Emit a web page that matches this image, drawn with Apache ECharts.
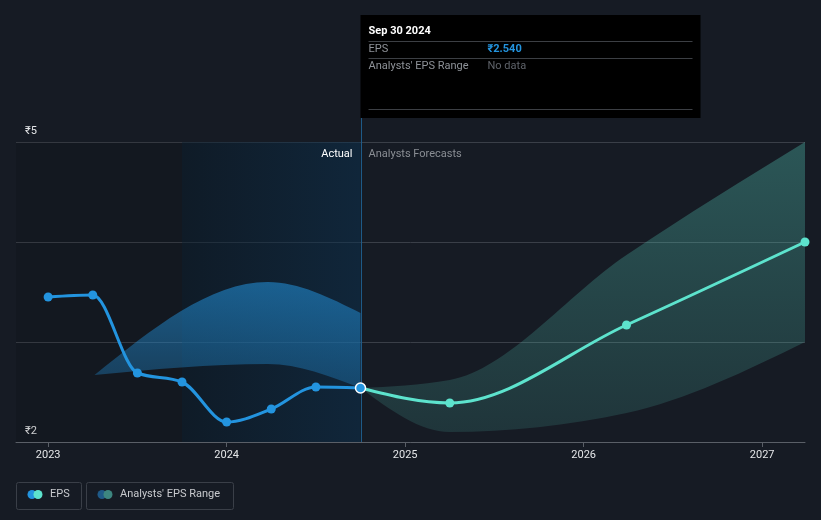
<!DOCTYPE html>
<html>
<head>
<meta charset="utf-8">
<script src="https://cdn.jsdelivr.net/npm/echarts@6/dist/echarts.min.js"></script>
<style>
  html, body { margin: 0; background: #161b24; }
  #main { width: 821px; height: 520px; }
</style>
</head>
<body>
<div id="main"></div>
<script>
// dates are decimal years (2024.75 = Sep 30 2024)
const epsDates = [2023.0, 2023.25, 2023.5, 2023.75, 2024.0, 2024.25, 2024.5, 2024.75];
const epsValues = [3.45, 3.47, 2.69, 2.60, 2.20, 2.33, 2.55, 2.54];
const forecastDates = [2024.75, 2025.25, 2026.24, 2027.24];
const forecastValues = [2.54, 2.39, 3.17, 4.00];
const pastRangeDates = [2023.26, 2024.23, 2024.75];
const pastRangeLow = [2.67, 2.78, 2.54];
const pastRangeHigh = [2.67, 3.60, 3.29];
const futureRangeDates = [2024.75, 2025.25, 2026.24, 2027.24];
const futureRangeLow = [2.54, 2.10, 2.29, 3.00];
const futureRangeHigh = [2.54, 2.62, 3.87, 5.00];
const yearTicks = [2023, 2024, 2025, 2026, 2027];
const lastActualDate = 2024.75;
const shadeStart = 2023.75;
const tooltipTitle = 'Sep 30 2024';
const tooltipEps = '₹2.540';

const FONT = 'Roboto, "Noto Sans", sans-serif';
const BLUE = '#2394df';
const MINT = '#5de3cd';

const pairs = (xs, ys) => xs.map((x, i) => [x, ys[i]]);

// monotone-x cubic segments (same idea as d3.curveMonotoneX), in pixel space
function monoSegments(pts) {
  const n = pts.length;
  if (n < 2) return [];
  const sign = v => (v < 0 ? -1 : 1);
  const sl = [];
  for (let i = 0; i < n - 1; i++) {
    const h = pts[i + 1][0] - pts[i][0];
    sl.push(h ? (pts[i + 1][1] - pts[i][1]) / h : 0);
  }
  const t = new Array(n);
  for (let i = 1; i < n - 1; i++) {
    const h0 = pts[i][0] - pts[i - 1][0], h1 = pts[i + 1][0] - pts[i][0];
    const s0 = sl[i - 1], s1 = sl[i];
    const p = (s0 * h1 + s1 * h0) / (h0 + h1);
    t[i] = (sign(s0) + sign(s1)) * Math.min(Math.abs(s0), Math.abs(s1), 0.5 * Math.abs(p)) || 0;
  }
  if (n === 2) { t[0] = sl[0]; t[1] = sl[0]; }
  else {
    t[0] = (3 * sl[0] - t[1]) / 2;
    t[n - 1] = (3 * sl[n - 2] - t[n - 2]) / 2;
  }
  const segs = [];
  for (let i = 0; i < n - 1; i++) {
    const [x0, y0] = pts[i], [x1, y1] = pts[i + 1];
    const dx = (x1 - x0) / 3;
    segs.push([[x0, y0], [x0 + dx, y0 + dx * t[i]], [x1 - dx, y1 - dx * t[i + 1]], [x1, y1]]);
  }
  return segs;
}
const f = v => v.toFixed(2);
function linePath(pts) {
  const segs = monoSegments(pts);
  let d = 'M' + f(pts[0][0]) + ' ' + f(pts[0][1]);
  segs.forEach(s => { d += 'C' + [s[1], s[2], s[3]].map(p => f(p[0]) + ' ' + f(p[1])).join(' '); });
  return d;
}
function bandPath(upper, lower) {
  let d = linePath(upper);
  const segs = monoSegments(lower).reverse();
  const last = lower[lower.length - 1];
  d += 'L' + f(last[0]) + ' ' + f(last[1]);
  segs.forEach(s => { d += 'C' + [s[2], s[1], s[0]].map(p => f(p[0]) + ' ' + f(p[1])).join(' '); });
  return d + 'Z';
}

function lineSeries(name, xs, ys, color) {
  return {
    name, type: 'custom', silent: true, z: 4,
    data: pairs(xs, ys),
    renderItem(params, api) {
      if (params.dataIndex !== 0) return;
      const pts = xs.map((x, i) => api.coord([x, ys[i]]));
      return { type: 'path', shape: { pathData: linePath(pts) },
        style: { fill: null, stroke: color, lineWidth: 3, lineJoin: 'round', lineCap: 'round' } };
    }
  };
}
function bandSeries(name, xs, lo, hi, fill) {
  return {
    name, type: 'custom', silent: true, z: 2,
    data: xs.map((x, i) => [x, lo[i], hi[i]]),
    renderItem(params, api) {
      if (params.dataIndex !== 0) return;
      const up = xs.map((x, i) => api.coord([x, hi[i]]));
      const dn = xs.map((x, i) => api.coord([x, lo[i]]));
      return { type: 'path', shape: { pathData: bandPath(up, dn) }, style: { fill } };
    }
  };
}

const chart = echarts.init(document.getElementById('main'));

const option = {
  backgroundColor: '#161b24',
  animation: false,
  textStyle: { fontFamily: FONT },
  grid: { left: 16, right: 16, top: 142, bottom: 78 },
  xAxis: {
    type: 'value',
    min: 2022.82,
    max: 2027.24,
    axisLine: { lineStyle: { color: '#5a5f67', width: 1 } },
    axisTick: { show: true, customValues: yearTicks, length: 5, lineStyle: { color: '#5a5f67' } },
    axisLabel: { customValues: yearTicks, color: '#e4e6e8', fontSize: 11, margin: 8, formatter: v => String(v) },
    splitLine: { show: false }
  },
  yAxis: {
    type: 'value',
    min: 2,
    max: 5,
    interval: 1,
    axisLine: { show: false },
    axisTick: { show: false },
    axisLabel: {
      inside: true,
      margin: 9,
      align: 'left',
      verticalAlign: 'bottom',
      padding: [0, 0, 5, 0],
      color: '#e4e6e8',
      fontSize: 11,
      formatter: v => (v === 2 || v === 5) ? '₹' + v : ''
    },
    splitLine: { lineStyle: { color: '#3a3f48', width: 1 } }
  },
  series: [
    {
      // background shading for past / actual period
      type: 'line',
      data: [],
      silent: true,
      z: 1,
      markArea: {
        silent: true,
        data: [
          [{ xAxis: 2022.82, itemStyle: { color: 'rgba(0,0,0,0.1)' } }, { xAxis: shadeStart }],
          [{ xAxis: shadeStart, itemStyle: {
              color: new echarts.graphic.LinearGradient(0, 0, 1, 0, [
                { offset: 0, color: 'rgba(8,27,42,0.5)' },
                { offset: 1, color: 'rgba(10,49,80,0.5)' }
              ])
            } }, { xAxis: lastActualDate }]
        ]
      }
    },
    bandSeries("Analysts' EPS Range", pastRangeDates, pastRangeLow, pastRangeHigh,
      new echarts.graphic.LinearGradient(0, 0, 0, 1, [
        { offset: 0, color: 'rgba(35,148,223,0.55)' },
        { offset: 1, color: 'rgba(35,148,223,0.3)' }
      ])),
    bandSeries('Forecast range', futureRangeDates, futureRangeLow, futureRangeHigh,
      new echarts.graphic.LinearGradient(0, 0, 0, 1, [
        { offset: 0, color: 'rgba(88,212,194,0.32)' },
        { offset: 1, color: 'rgba(88,212,194,0.14)' }
      ])),
    lineSeries('EPS forecast', forecastDates, forecastValues, MINT),
    lineSeries('EPS', epsDates, epsValues, BLUE),
    {
      name: 'forecast points', type: 'scatter', symbol: 'circle', symbolSize: 9, z: 5, silent: true,
      itemStyle: { color: MINT, opacity: 1 },
      data: pairs(forecastDates, forecastValues).slice(1)
    },
    {
      name: 'EPS points', type: 'scatter', symbol: 'circle', symbolSize: 9, z: 5, silent: true,
      itemStyle: { color: BLUE, opacity: 1 },
      data: pairs(epsDates, epsValues).map((p, i, a) => i === a.length - 1
        ? { value: p, symbolSize: 10, itemStyle: { color: BLUE, borderColor: '#ffffff', borderWidth: 1.5 } }
        : p)
    }
  ]
};

chart.setOption(option);

// overlay: tooltip box, divider, labels and legend, placed from axis positions
const [lx, yBottom] = chart.convertToPixel({ gridIndex: 0 }, [lastActualDate, 2]);
const [, yTop] = chart.convertToPixel({ gridIndex: 0 }, [lastActualDate, 5]);
const tipW = 340, tipTop = 15, tipBottom = 118;
const lineCol = '#3c3f44';

const legendItem = (x, w, c1, c2, label) => ({
  type: 'group',
  children: [
    { type: 'rect', shape: { x: x + 0.5, y: 482.5, width: w, height: 27, r: 2 },
      style: { fill: 'none', stroke: '#3a3f48', lineWidth: 1 } },
    { type: 'circle', shape: { cx: x + 16, cy: 494.5, r: 4.5 }, style: { fill: c1 } },
    { type: 'circle', shape: { cx: x + 22, cy: 494.5, r: 4.5 }, style: { fill: c2 } },
    { type: 'text', x: x + 34, y: 494.5,
      style: { text: label, fill: '#c8cace', font: '11px ' + FONT, textVerticalAlign: 'middle' } }
  ]
});

chart.setOption({
  graphic: [
    { type: 'line', z: 3, shape: { x1: Math.round(lx) + 0.5, y1: tipBottom, x2: Math.round(lx) + 0.5, y2: yBottom },
      style: { stroke: '#1e5a87', lineWidth: 1 } },
    { type: 'text', z: 10, x: lx - 8, y: yTop + 12,
      style: { text: 'Actual', fill: '#ffffff', font: '11px ' + FONT, textAlign: 'right', textVerticalAlign: 'middle' } },
    { type: 'text', z: 10, x: lx + 8, y: yTop + 12,
      style: { text: 'Analysts Forecasts', fill: '#8a8e94', font: '11px ' + FONT, textVerticalAlign: 'middle' } },
    {
      type: 'group',
      z: 10,
      children: [
        { type: 'rect', z: 10, shape: { x: lx, y: tipTop, width: tipW, height: tipBottom - tipTop }, style: { fill: '#000000' } },
        { type: 'text', z: 11, x: lx + 8, y: tipTop + 16,
          style: { text: tooltipTitle, fill: '#ffffff', font: 'bold 11px ' + FONT, textVerticalAlign: 'middle' } },
        { type: 'line', z: 11, shape: { x1: lx + 8, y1: 41.5, x2: lx + tipW - 8, y2: 41.5 }, style: { stroke: lineCol, lineWidth: 1 } },
        { type: 'text', z: 11, x: lx + 8, y: 49,
          style: { text: 'EPS', fill: '#8e9298', font: '11px ' + FONT, textVerticalAlign: 'middle' } },
        { type: 'text', z: 11, x: lx + 127, y: 49,
          style: { text: tooltipEps, fill: BLUE, font: 'bold 11px ' + FONT, textVerticalAlign: 'middle' } },
        { type: 'line', z: 11, shape: { x1: lx + 8, y1: 58.5, x2: lx + tipW - 8, y2: 58.5 }, style: { stroke: lineCol, lineWidth: 1 } },
        { type: 'text', z: 11, x: lx + 8, y: 66,
          style: { text: "Analysts' EPS Range", fill: '#8e9298', font: '11px ' + FONT, textVerticalAlign: 'middle' } },
        { type: 'text', z: 11, x: lx + 127, y: 66,
          style: { text: 'No data', fill: '#5f636a', font: '11px ' + FONT, textVerticalAlign: 'middle' } },
        { type: 'line', z: 11, shape: { x1: lx + 8, y1: 109.5, x2: lx + tipW - 8, y2: 109.5 }, style: { stroke: lineCol, lineWidth: 1 } }
      ]
    },
    legendItem(16, 65, BLUE, MINT, 'EPS'),
    legendItem(86, 147, '#1f5a88', '#3d8680', "Analysts' EPS Range")
  ]
});
</script>
</body>
</html>
